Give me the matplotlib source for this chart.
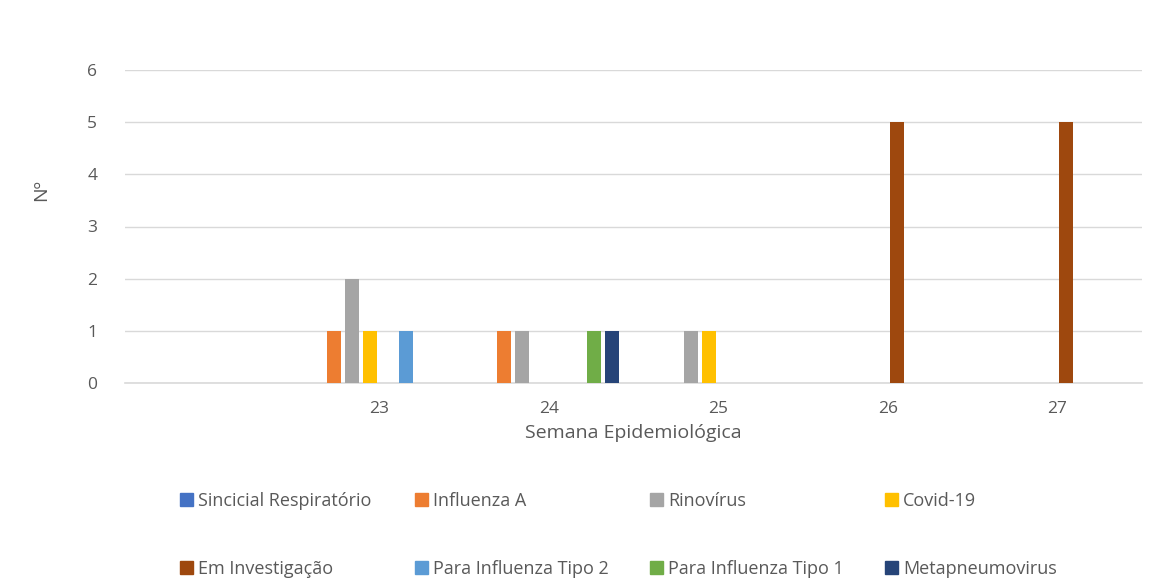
import numpy as np
import matplotlib.pyplot as plt
from matplotlib.patches import Patch

# semanas epidemiologicas (a primeira categoria nao tem rotulo)
semanas = ["", "23", "24", "25", "26", "27"]

sincicial = [0, 0, 0, 0, 0, 0]
influenza_a = [0, 1, 1, 0, 0, 0]
rinovirus = [0, 2, 1, 1, 0, 0]
covid = [0, 1, 0, 1, 0, 0]
em_investigacao = [0, 0, 0, 0, 5, 5]
para_inf_2 = [0, 1, 0, 0, 0, 0]
para_inf_1 = [0, 0, 1, 0, 0, 0]
metapneumo = [0, 0, 1, 0, 0, 0]

series = [
    ("Sincicial Respiratório", sincicial, "#4472C4"),
    ("Influenza A", influenza_a, "#ED7D31"),
    ("Rinovírus", rinovirus, "#A5A5A5"),
    ("Covid-19", covid, "#FFC000"),
    ("Em Investigação", em_investigacao, "#9E480E"),
    ("Para Influenza Tipo 2", para_inf_2, "#5B9BD5"),
    ("Para Influenza Tipo 1", para_inf_1, "#70AD47"),
    ("Metapneumovirus", metapneumo, "#264478"),
]

plt.rcParams['font.family'] = ['Open Sans', 'DejaVu Sans']
txt = "#595959"

fig = plt.figure(figsize=(11.65, 5.8), dpi=100)
ax = fig.add_axes([125 / 1165, 1 - 383 / 580, 1017 / 1165, 313 / 580])

x = np.arange(len(semanas))
slot = 18 / 170
largura = 14 / 170
n = len(series)
for i, (nome, vals, cor) in enumerate(series):
    ax.bar(x + (i - (n - 1) / 2) * slot, vals, width=largura, color=cor, zorder=3)

ax.set_xlim(-0.5, len(semanas) - 0.5)
ax.set_ylim(0, 6)
ax.set_yticks(range(0, 7))
ax.set_xticks(x)
ax.set_xticklabels(semanas)
ax.grid(axis='y', color="#D9D9D9", linewidth=1, zorder=0)
ax.axhline(0, color="#D9D9D9", linewidth=1.2, zorder=2, clip_on=False)
for s in ax.spines.values():
    s.set_visible(False)
ax.tick_params(length=0, labelsize=12.5, colors=txt)
ax.tick_params(axis='y', pad=20)
ax.tick_params(axis='x', pad=13)

ax.set_xlabel("Semana Epidemiológica", fontsize=14, color=txt, labelpad=5)
ax.set_ylabel("Nº", fontsize=14, color=txt)
ax.yaxis.set_label_coords(-0.074, 0.617)

# legenda em 4 colunas, 2 linhas
handles = [Patch(color=c, label=nome) for nome, _, c in series]
col_x = [180, 415, 650, 885]
for j in range(4):
    fig.legend(handles=[handles[j], handles[j + 4]], loc='upper left',
               bbox_to_anchor=(col_x[j] / 1165, 1 - 492 / 580),
               frameon=False, fontsize=13, labelcolor=txt,
               handlelength=0.7, handleheight=0.7, handletextpad=0.3,
               labelspacing=2.75, borderaxespad=0, borderpad=0)

fig.savefig("out.png", dpi=100, facecolor="white")
